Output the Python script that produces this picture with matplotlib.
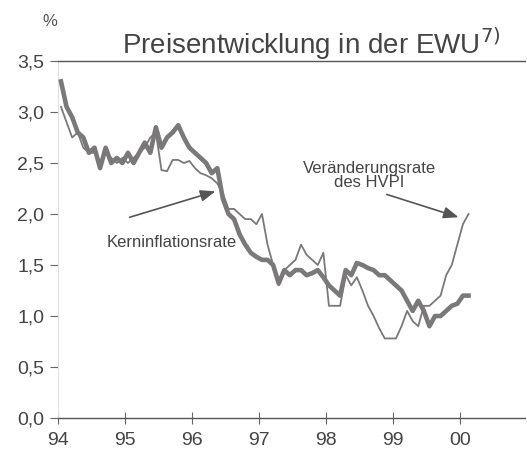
import matplotlib
matplotlib.use("Agg")
import matplotlib.pyplot as plt
import numpy as np

plt.rcParams['font.family'] = ['Liberation Sans', 'DejaVu Sans']

# Monthly data, Jan 1994 .. Feb 2000
start_year = 1994
core_rate = [3.3, 3.05, 2.95, 2.8, 2.75, 2.6, 2.65, 2.45, 2.65, 2.5, 2.55, 2.5,
             2.6, 2.5, 2.6, 2.7, 2.6, 2.85, 2.65, 2.75, 2.8, 2.87, 2.75, 2.65,
             2.6, 2.55, 2.5, 2.4, 2.45, 2.15, 2.0, 1.95, 1.8, 1.7, 1.62, 1.58,
             1.55, 1.55, 1.5, 1.32, 1.45, 1.4, 1.45, 1.45, 1.4, 1.42, 1.45, 1.38,
             1.3, 1.25, 1.2, 1.45, 1.4, 1.52, 1.5, 1.47, 1.45, 1.4, 1.4, 1.35,
             1.3, 1.25, 1.15, 1.05, 1.15, 1.05, 0.9, 1.0, 1.0, 1.05, 1.1, 1.12,
             1.2, 1.2]
hicp_rate = [3.05, 2.9, 2.75, 2.8, 2.65, 2.6, 2.6, 2.5, 2.6, 2.55, 2.5, 2.55,
             2.5, 2.55, 2.6, 2.65, 2.75, 2.8, 2.43, 2.42, 2.53, 2.53, 2.5, 2.52,
             2.45, 2.4, 2.38, 2.35, 2.3, 2.2, 2.05, 2.05, 2.0, 1.95, 1.95, 1.9,
             2.0, 1.7, 1.5, 1.3, 1.45, 1.5, 1.55, 1.7, 1.6, 1.55, 1.5, 1.62,
             1.1, 1.1, 1.1, 1.4, 1.3, 1.38, 1.25, 1.1, 1.0, 0.88, 0.78, 0.78,
             0.78, 0.9, 1.05, 0.95, 0.9, 1.1, 1.1, 1.15, 1.2, 1.4, 1.5, 1.7,
             1.9, 2.0]
year_ticks = [1994, 1995, 1996, 1997, 1998, 1999, 2000]
year_labels = ["94", "95", "96", "97", "98", "99", "00"]
y_ticks = [0.0, 0.5, 1.0, 1.5, 2.0, 2.5, 3.0, 3.5]
y_labels = ["0,0", "0,5", "1,0", "1,5", "2,0", "2,5", "3,0", "3,5"]

x = start_year + np.arange(len(core_rate)) / 12.0 + 0.045

fig = plt.figure(figsize=(5.27, 4.58), dpi=100)
ax = fig.add_axes([0.110, 0.0873, 0.886, 0.7795])

line_col = "#7a7878"
ax.plot(x, hicp_rate, color=line_col, lw=1.3, solid_joinstyle='round', zorder=3)
ax.plot(x, core_rate, color=line_col, lw=3.3, solid_joinstyle='round', zorder=4)

ax.set_xlim(1994, 2000.97)
ax.set_ylim(0, 3.5)

ax.spines['right'].set_visible(False)
ax.spines['left'].set_color("#e0e0e0")
ax.spines['left'].set_linewidth(0.8)
ax.spines['top'].set_color("#555555")
ax.spines['top'].set_linewidth(1.0)
ax.spines['bottom'].set_color("#555555")
ax.spines['bottom'].set_linewidth(1.0)

ax.set_yticks(y_ticks)
ax.set_yticklabels(y_labels)
ax.set_xticks(year_ticks)
ax.set_xticklabels(year_labels)
ax.tick_params(axis='y', direction='out', length=6, width=0.8, color="#666666",
               labelsize=14, labelcolor="#444444", pad=4)
ax.tick_params(axis='x', direction='inout', length=8, width=0.8, color="#666666",
               labelsize=14, labelcolor="#444444", pad=6)

fig.text(50/527, 1 - 22/458, "%", fontsize=12, color="#555555", ha='center', va='center')
fig.text(311/527, 1 - 44/458, r"Preisentwicklung in der EWU$^{7)}$", fontsize=20,
         color="#444444", ha='center', va='center')

ax.annotate("", xy=(1996.39, 2.23), xytext=(1995.03, 1.96),
            arrowprops=dict(arrowstyle="-|>,head_length=0.9,head_width=0.35",
                            color="#555555", lw=1.2))
ax.text(1995.7, 1.72, "Kerninflationsrate", fontsize=12, color="#444444",
        ha='center', va='center')

ax.text(1998.65, 2.38, "Veränderungsrate\ndes HVPI", fontsize=12, color="#444444",
        ha='center', va='center', linespacing=0.95)
ax.annotate("", xy=(2000.02, 1.96), xytext=(1998.87, 2.2),
            arrowprops=dict(arrowstyle="-|>,head_length=0.9,head_width=0.35",
                            color="#555555", lw=1.2))

fig.savefig("out.png", dpi=100, facecolor="white")
